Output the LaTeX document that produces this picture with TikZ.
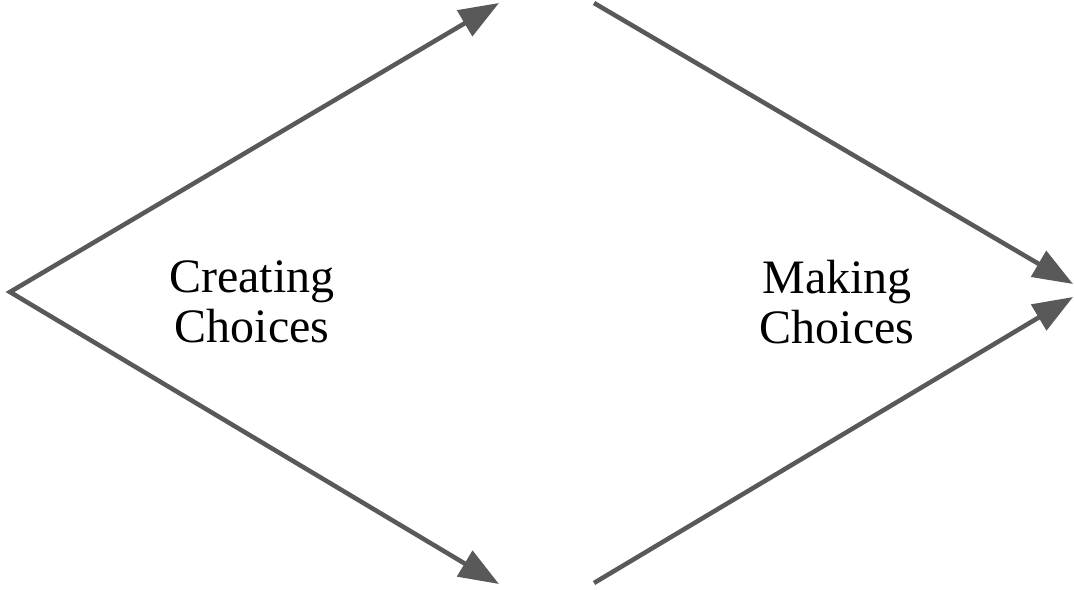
\documentclass[tikz,border=0pt]{standalone}
\usepackage{fontspec}
\setmainfont{Liberation Serif}
\usetikzlibrary{arrows.meta}
\definecolor{lineGray}{RGB}{89,89,89}
\tikzset{every picture/.style={line width=0.75pt}}
\tikzset{
  flowline/.style={draw=lineGray, line width=3.4pt, -{Triangle[length=30pt,width=22pt]}},
  phaselabel/.style={align=center, inner sep=0.75pt, font=\fontsize{36}{38}\selectfont}
}

\begin{document}
\begin{tikzpicture}[x=0.75pt,y=0.75pt,yscale=-1,xscale=1]
\useasboundingbox (0,0) rectangle (1074,589);

% Coordinates
\coordinate (apex) at (10,292);
\coordinate (divTop) at (499,3);
\coordinate (divBot) at (499,584);
\coordinate (convTop) at (594,3);
\coordinate (convBot) at (594,583);
\coordinate (endTop) at (1073,284);
\coordinate (endBot) at (1073,297);

%Straight Lines
\draw [flowline, {Triangle[length=30pt,width=22pt]}-{Triangle[length=30pt,width=22pt]}, line join=miter] (divTop) -- (apex) -- (divBot) ;
%Straight Lines
\draw [flowline] (convTop) -- (endTop) ;
%Straight Lines
\draw [flowline] (convBot) -- (endBot) ;

% Text Node
\node [phaselabel] (creating) at (252,302) {Creating\\Choices};
% Text Node
\node [phaselabel] (making) at (837,302) {Making\\Choices};

\end{tikzpicture}
\end{document}
